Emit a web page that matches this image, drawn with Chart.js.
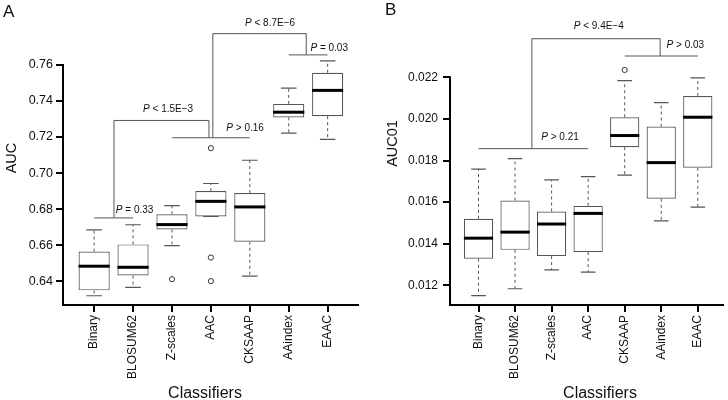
<!DOCTYPE html>
<html>
<head>
<meta charset="utf-8">
<script src="https://cdn.jsdelivr.net/npm/chart.js@4.4.1/dist/chart.umd.min.js"></script>
<style>
  body { margin: 0; background: #fff; }
  #wrap { position: relative; width: 728px; height: 400px; overflow: hidden; }
  canvas { position: absolute; top: 0; }
  #chartA { left: 0; }
  #chartB { left: 364px; }
</style>
</head>
<body>
<div id="wrap">
  <canvas id="chartA" width="364" height="400"></canvas>
  <canvas id="chartB" width="364" height="400"></canvas>
</div>
<script>
const FONT = "'Liberation Sans', Arial, Helvetica, sans-serif";

const classifiersA = ['Binary', 'BLOSUM62', 'Z-scales', 'AAC', 'CKSAAP', 'AAindex', 'EAAC'];
const classifiersB = ['Binary', 'BLOSUM62', 'Z-scales', 'AAC', 'CKSAAP', 'AAindex', 'EAAC'];

// Panel A - AUC
const minA = [0.6319, 0.6365, 0.6597, 0.6759, 0.6428, 0.7222, 0.7187];
const q1A  = [0.6349, 0.6431, 0.6687, 0.6759, 0.6619, 0.7309, 0.7316];
const medA = [0.6483, 0.6477, 0.6714, 0.6843, 0.6812, 0.7338, 0.7459];
const q3A  = [0.6564, 0.6604, 0.6771, 0.6900, 0.6889, 0.7384, 0.7557];
const maxA = [0.6685, 0.6713, 0.6819, 0.6942, 0.7071, 0.7472, 0.7623];
const outlierPosA = [3, 4, 4, 4];
const outlierValA = [0.6411, 0.7138, 0.6531, 0.6400];
const yTicksA = [0.64, 0.66, 0.68, 0.70, 0.72, 0.74, 0.76];

// Panel B - AUC01
const minB = [0.01151, 0.01184, 0.01275, 0.01264, 0.01730, 0.01510, 0.01576];
const q1B  = [0.01328, 0.01371, 0.01341, 0.01360, 0.01864, 0.01616, 0.01765];
const medB = [0.01427, 0.01456, 0.01495, 0.01546, 0.01920, 0.01790, 0.02008];
const q3B  = [0.01520, 0.01608, 0.01555, 0.01582, 0.02008, 0.01963, 0.02110];
const maxB = [0.01759, 0.01809, 0.01707, 0.01723, 0.02184, 0.02078, 0.02197];
const outlierPosB = [5];
const outlierValB = [0.02235];
const yTicksB = [0.012, 0.014, 0.016, 0.018, 0.020, 0.022];

// significance brackets, as polylines of [classifier position, value]
const bracketsA = [
  [[1, 0.6751], [2, 0.6751]],
  [[1.51, 0.6751], [1.51, 0.7292], [3.95, 0.7292], [3.95, 0.7196]],
  [[3, 0.7196], [5, 0.7196]],
  [[4.05, 0.7196], [4.05, 0.7774], [6.45, 0.7774], [6.45, 0.7656]],
  [[6, 0.7656], [7, 0.7656]]
];
const pTextA = [
  [2.04, 0.6796, ' = 0.33'],
  [2.90, 0.7356, ' < 1.5E\u22123'],
  [4.88, 0.7251, ' > 0.16'],
  [5.52, 0.7831, ' < 8.7E\u22126'],
  [7.04, 0.7693, ' = 0.03']
];
const bracketsB = [
  [[1, 0.01857], [4, 0.01857]],
  [[2.46, 0.01857], [2.46, 0.02385], [5.97, 0.02385], [5.97, 0.02302]],
  [[5, 0.02302], [7, 0.02302]]
];
const pTextB = [
  [3.23, 0.0191, ' > 0.21'],
  [4.29, 0.02443, ' < 9.4E\u22124'],
  [6.66, 0.02355, ' > 0.03']
];

function makeDecor(p) {
  return {
    id: 'decor',
    afterDatasetsDraw(chart) {
      const ctx = chart.ctx;
      const xs = chart.scales.x, ys = chart.scales.y;
      const area = chart.chartArea;
      const boxes = chart.getDatasetMeta(0).data;
      ctx.save();
      boxes.forEach((bar, i) => {
        const x = bar.x, half = bar.width / 2;
        const yMax = ys.getPixelForValue(p.max[i]), yMin = ys.getPixelForValue(p.min[i]);
        // whiskers
        ctx.strokeStyle = '#555';
        ctx.lineWidth = 1;
        ctx.setLineDash([3, 3]);
        ctx.beginPath();
        ctx.moveTo(x, ys.getPixelForValue(p.q3[i])); ctx.lineTo(x, yMax);
        ctx.moveTo(x, ys.getPixelForValue(p.q1[i])); ctx.lineTo(x, yMin);
        ctx.stroke();
        // caps
        ctx.setLineDash([]);
        ctx.lineWidth = 1.2;
        ctx.beginPath();
        ctx.moveTo(x - half / 2, yMax); ctx.lineTo(x + half / 2, yMax);
        ctx.moveTo(x - half / 2, yMin); ctx.lineTo(x + half / 2, yMin);
        ctx.stroke();
        // median
        const ym = ys.getPixelForValue(p.med[i]);
        ctx.strokeStyle = '#000';
        ctx.lineWidth = 3;
        ctx.beginPath();
        ctx.moveTo(x - half, ym); ctx.lineTo(x + half, ym);
        ctx.stroke();
      });

      // brackets
      ctx.strokeStyle = '#555';
      ctx.lineWidth = 1;
      p.brackets.forEach(line => {
        ctx.beginPath();
        line.forEach((pt, k) => {
          const px = xs.getPixelForValue(pt[0]), py = ys.getPixelForValue(pt[1]);
          if (k === 0) ctx.moveTo(px, py); else ctx.lineTo(px, py);
        });
        ctx.stroke();
      });

      // P labels, italic P
      ctx.fillStyle = '#111';
      ctx.textBaseline = 'middle';
      ctx.textAlign = 'left';
      p.pText.forEach(t => {
        const cx = xs.getPixelForValue(t[0]), cy = ys.getPixelForValue(t[1]);
        ctx.font = 'italic 10px ' + FONT;
        const wP = ctx.measureText('P').width;
        ctx.font = '10px ' + FONT;
        const wR = ctx.measureText(t[2]).width;
        let sx = cx - (wP + wR) / 2;
        ctx.font = 'italic 10px ' + FONT;
        ctx.fillText('P', sx, cy);
        ctx.font = '10px ' + FONT;
        ctx.fillText(t[2], sx + wP, cy);
      });

      // y axis line, from the top tick down to the x axis
      ctx.strokeStyle = '#000';
      ctx.lineWidth = 2;
      ctx.beginPath();
      ctx.moveTo(area.left, ys.getPixelForValue(p.yTicks[p.yTicks.length - 1]) - 1);
      ctx.lineTo(area.left, area.bottom);
      ctx.stroke();

      // titles and panel letter
      ctx.fillStyle = '#111';
      ctx.textBaseline = 'alphabetic';
      ctx.textAlign = 'center';
      ctx.font = '16px ' + FONT;
      ctx.fillText('Classifiers', p.xTitle[0], p.xTitle[1]);
      ctx.save();
      ctx.translate(p.yTitle[0], p.yTitle[1]);
      ctx.rotate(-Math.PI / 2);
      ctx.font = '14.5px ' + FONT;
      ctx.fillText(p.yLabel, 0, 0);
      ctx.restore();
      ctx.textAlign = 'left';
      ctx.font = '17px ' + FONT;
      ctx.fillText(p.letter, p.letterPos[0], p.letterPos[1]);
      ctx.restore();
    }
  };
}

function buildChart(id, p) {
  const n = p.labels.length;
  return new Chart(document.getElementById(id), {
    type: 'bar',
    data: {
      datasets: [{
        data: p.labels.map((c, i) => ({ x: i + 1, y: [p.q1[i], p.q3[i]] })),
        backgroundColor: '#fff',
        borderColor: '#555',
        borderWidth: 1.2,
        borderSkipped: false,
        categoryPercentage: 1,
        barPercentage: 0.8
      }, {
        type: 'scatter',
        data: p.outPos.map((x, i) => ({ x: x, y: p.outVal[i] })),
        pointRadius: 2.6,
        pointBackgroundColor: '#fff',
        pointBorderColor: '#333',
        pointBorderWidth: 1
      }]
    },
    options: {
      responsive: false,
      animation: false,
      layout: { padding: { top: 10, right: p.padRight, left: 0, bottom: 0 } },
      plugins: { legend: { display: false }, tooltip: { enabled: false } },
      scales: {
        x: {
          type: 'linear',
          min: p.xMin, max: p.xMax,
          offset: false,
          bounds: 'data',
          grid: { display: true, drawOnChartArea: false, offset: false, tickLength: 7, lineWidth: 2, color: '#000' },
          border: { display: true, color: '#000', width: 2 },
          ticks: {
            autoSkip: false, minRotation: 90, maxRotation: 90, padding: 3,
            color: '#111', font: { family: FONT, size: 12 },
            callback: v => p.labels[v - 1]
          },
          afterBuildTicks: s => { s.ticks = p.labels.map((c, i) => ({ value: i + 1 })); },
          afterFit: s => { s.height = 95; s.paddingLeft = 0; s.paddingRight = 0; }
        },
        y: {
          type: 'linear',
          min: p.yMin, max: p.yMax,
          bounds: 'data',
          beginAtZero: false,
          grid: { display: true, drawOnChartArea: false, tickLength: 7, lineWidth: 2, color: '#000' },
          border: { display: false },
          ticks: {
            padding: p.yPad, color: '#111', font: { family: FONT, size: p.yFont },
            callback: v => v.toFixed(p.digits)
          },
          afterBuildTicks: s => { s.ticks = p.yTicks.map(v => ({ value: v })); },
          afterFit: s => { s.width = p.axisWidth; s.paddingTop = 0; s.paddingBottom = 0; }
        }
      }
    },
    plugins: [makeDecor(p)]
  });
}

buildChart('chartA', {
  labels: classifiersA, min: minA, q1: q1A, med: medA, q3: q3A, max: maxA,
  outPos: outlierPosA, outVal: outlierValA, yTicks: yTicksA,
  brackets: bracketsA, pText: pTextA,
  xMin: 0.2, xMax: 7.78, yMin: 0.62676, yMax: 0.79052,
  padRight: 6, axisWidth: 63, yPad: 3, yFont: 12.5, digits: 2,
  xTitle: [205, 398], yTitle: [15.5, 158], yLabel: 'AUC', letter: 'A', letterPos: [3, 17]
});

buildChart('chartB', {
  labels: classifiersB, min: minB, q1: q1B, med: medB, q3: q3B, max: maxB,
  outPos: outlierPosB, outVal: outlierValB, yTicks: yTicksB,
  brackets: bracketsB, pText: pTextB,
  xMin: 0.22, xMax: 7.69, yMin: 0.01106, yMax: 0.02523,
  padRight: 0, axisWidth: 86, yPad: 5, yFont: 12, digits: 3,
  xTitle: [236, 398], yTitle: [33, 143.5], yLabel: 'AUC01', letter: 'B', letterPos: [21, 15]
});
</script>
</body>
</html>
